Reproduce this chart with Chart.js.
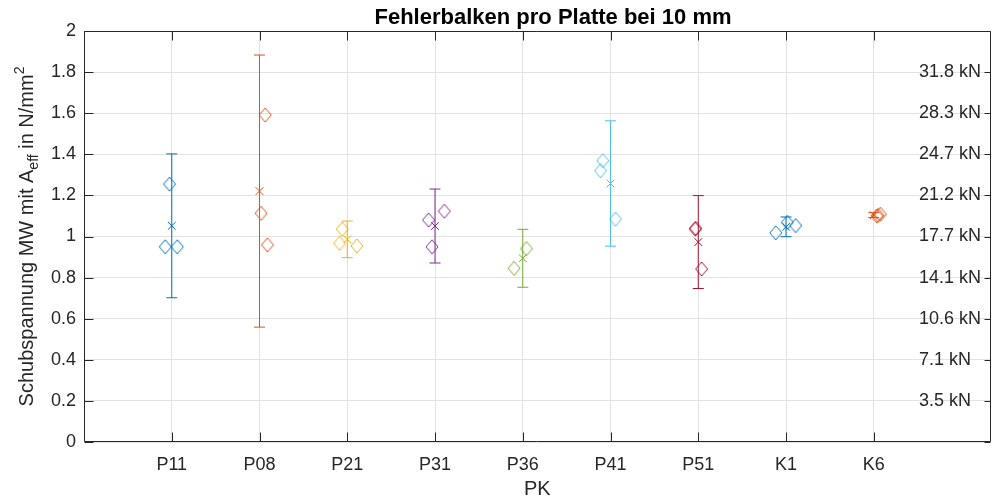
<!DOCTYPE html>
<html>
<head>
<meta charset="utf-8">
<title>Fehlerbalken pro Platte bei 10 mm</title>
<script src="https://cdn.jsdelivr.net/npm/chart.js@4"></script>
<style>
  html, body { margin: 0; padding: 0; background: #fff; }
  #wrap { width: 997px; height: 502px; }
</style>
</head>
<body>
<div id="wrap"><canvas id="shearChart" width="997" height="502"></canvas></div>
<script>
// Prüfkörper (x-Achse)
const categories = ['P11', 'P08', 'P21', 'P31', 'P36', 'P41', 'P51', 'K1', 'K6'];

// Mittelwert und Standardabweichung pro Platte (N/mm²)
const means = [1.052, 1.221, 0.986, 1.051, 0.894, 1.258, 0.973, 1.047, 1.104];
const errors = [0.350, 0.662, 0.089, 0.180, 0.141, 0.305, 0.226, 0.048, 0.012];

// Einzelwerte pro Platte
const samples = [
  [1.255, 0.950, 0.950],
  [1.591, 1.113, 0.959],
  [1.036, 0.967, 0.954],
  [1.123, 1.080, 0.950],
  [0.941, 0.845],
  [1.369, 1.320, 1.084],
  [1.036, 1.040, 0.842],
  [1.018, 1.069, 1.053],
  [1.108, 1.100, 1.103]
];

// seitlicher Versatz der Einzelwerte (in Einheiten der x-Achse)
const jitter = [
  [-0.025, -0.074, 0.063],
  [0.065, 0.019, 0.091],
  [-0.057, -0.088, 0.109],
  [0.106, -0.073, -0.034],
  [0.042, -0.099],
  [-0.088, -0.114, 0.057],
  [-0.034, -0.030, 0.038],
  [-0.117, 0.015, 0.110],
  [0.076, 0.034, 0.050]
];

// y-Achse und Kraftbeschriftung rechts
const yTickValues = [0, 0.2, 0.4, 0.6, 0.8, 1, 1.2, 1.4, 1.6, 1.8, 2];
const kNValues = [0.2, 0.4, 0.6, 0.8, 1, 1.2, 1.4, 1.6, 1.8];
const kNLabels = ['3.5 kN', '7.1 kN', '10.6 kN', '14.1 kN', '17.7 kN', '21.2 kN', '24.7 kN', '28.3 kN', '31.8 kN'];

const colors = ['#0072BD', '#D95319', '#EDB120', '#7E2F8E', '#77AC30', '#4DBEEE', '#A2142F', '#0072BD', '#D95319'];

const FONT = "'Liberation Sans', Arial, Helvetica, sans-serif";

// Raute als Marker (etwas höher als breit)
function makeDiamond(color) {
  const c = document.createElement('canvas');
  c.width = 14; c.height = 16;
  const g = c.getContext('2d');
  g.strokeStyle = color;
  g.lineWidth = 1;
  g.beginPath();
  g.moveTo(7, 1);
  g.lineTo(13, 8);
  g.lineTo(7, 15);
  g.lineTo(1, 8);
  g.closePath();
  g.stroke();
  return c;
}

const datasets = [];
categories.forEach((cat, i) => {
  const x = i + 1;
  // Fehlerbalken
  datasets.push({
    label: cat + ' Fehler',
    data: [{ x: x, y: means[i] - errors[i] }, { x: x, y: means[i] + errors[i] }],
    showLine: true,
    borderColor: colors[i],
    borderWidth: 1,
    pointStyle: 'line',
    pointRadius: 5.5,
    pointBorderWidth: 1,
    order: 3
  });
  // Einzelwerte
  datasets.push({
    label: cat + ' Werte',
    data: samples[i].map((v, j) => ({ x: x + jitter[i][j], y: v })),
    pointStyle: makeDiamond(colors[i]),
    borderColor: colors[i],
    order: 2
  });
  // Mittelwert
  datasets.push({
    label: cat + ' MW',
    data: [{ x: x, y: means[i] }],
    pointStyle: 'crossRot',
    pointRadius: 5.5,
    borderColor: colors[i],
    pointBorderWidth: 1,
    order: 1
  });
});

// Rahmen, Ticks nach innen, Titel, y-Beschriftung und kN-Werte
const matlabFrame = {
  id: 'matlabFrame',
  afterDraw(chart) {
    const { ctx, chartArea: a, scales: { x, y } } = chart;
    const L = Math.round(a.left) + 0.5, R = Math.round(a.right) - 0.5;
    const T = Math.round(a.top) + 0.5, B = Math.round(a.bottom) - 0.5;
    ctx.save();
    ctx.strokeStyle = '#262626';
    ctx.lineWidth = 1;
    ctx.beginPath();
    ctx.rect(L, T, R - L, B - T);
    yTickValues.forEach(v => {
      const py = Math.round(y.getPixelForValue(v)) + 0.5;
      ctx.moveTo(L, py); ctx.lineTo(L + 9, py);
      ctx.moveTo(R, py); ctx.lineTo(R - 6, py);
    });
    categories.forEach((c, i) => {
      const px = Math.round(x.getPixelForValue(i + 1)) + 0.5;
      ctx.moveTo(px, B); ctx.lineTo(px, B - 9);
      ctx.moveTo(px, T); ctx.lineTo(px, T + 9);
    });
    ctx.stroke();

    // kN-Beschriftung
    ctx.fillStyle = '#262626';
    ctx.font = '18px ' + FONT;
    ctx.textAlign = 'left';
    ctx.textBaseline = 'middle';
    kNValues.forEach((v, i) => {
      ctx.fillText(kNLabels[i], 919, y.getPixelForValue(v));
    });

    // Titel
    ctx.fillStyle = '#000';
    ctx.font = 'bold 22px ' + FONT;
    ctx.textAlign = 'center';
    ctx.textBaseline = 'alphabetic';
    ctx.fillText('Fehlerbalken pro Platte bei 10 mm', 553, 24);

    // y-Achsentitel mit Index und Exponent, mittig zur Achse
    const parts = [
      ['Schubspannung MW mit A', 20, 0],
      ['eff', 14, 5],
      [' in N/mm', 20, 0],
      ['2', 14, -9]
    ];
    let total = 0;
    parts.forEach(p => { ctx.font = p[1] + 'px ' + FONT; total += ctx.measureText(p[0]).width; });
    ctx.fillStyle = '#262626';
    ctx.translate(33, (a.top + a.bottom) / 2 + total / 2);
    ctx.rotate(-Math.PI / 2);
    ctx.textAlign = 'left';
    let cx = 0;
    parts.forEach(p => {
      ctx.font = p[1] + 'px ' + FONT;
      ctx.fillText(p[0], cx, p[2]);
      cx += ctx.measureText(p[0]).width;
    });
    ctx.restore();
  }
};

new Chart(document.getElementById('shearChart'), {
  type: 'scatter',
  data: { datasets: datasets },
  options: {
    responsive: false,
    animation: false,
    events: [],
    clip: false,
    layout: { padding: { top: 31, right: 6, left: 0, bottom: 0 } },
    plugins: {
      legend: { display: false },
      tooltip: { enabled: false },
      title: { display: false }
    },
    scales: {
      x: {
        type: 'linear',
        min: 0,
        max: 10.33,
        afterFit: s => { s.height = 60; },
        afterBuildTicks: s => { s.ticks = categories.map((c, i) => ({ value: i + 1 })); },
        grid: { color: '#e3e3e3', drawTicks: false },
        border: { display: false },
        ticks: {
          padding: 12,
          color: '#262626',
          font: { family: FONT, size: 18 },
          callback: v => categories[Math.round(v) - 1] || ''
        },
        title: {
          display: true,
          text: 'PK',
          color: '#262626',
          font: { family: FONT, size: 20 },
          padding: { top: 0, bottom: 1 }
        }
      },
      y: {
        min: 0,
        max: 2,
        afterFit: s => { s.width = 84; },
        afterBuildTicks: s => { s.ticks = yTickValues.map(v => ({ value: v })); },
        grid: { color: '#e3e3e3', drawTicks: false },
        border: { display: false },
        ticks: {
          padding: 8,
          color: '#262626',
          font: { family: FONT, size: 18 },
          callback: v => String(v)
        }
      }
    }
  },
  plugins: [matlabFrame]
});
</script>
</body>
</html>
